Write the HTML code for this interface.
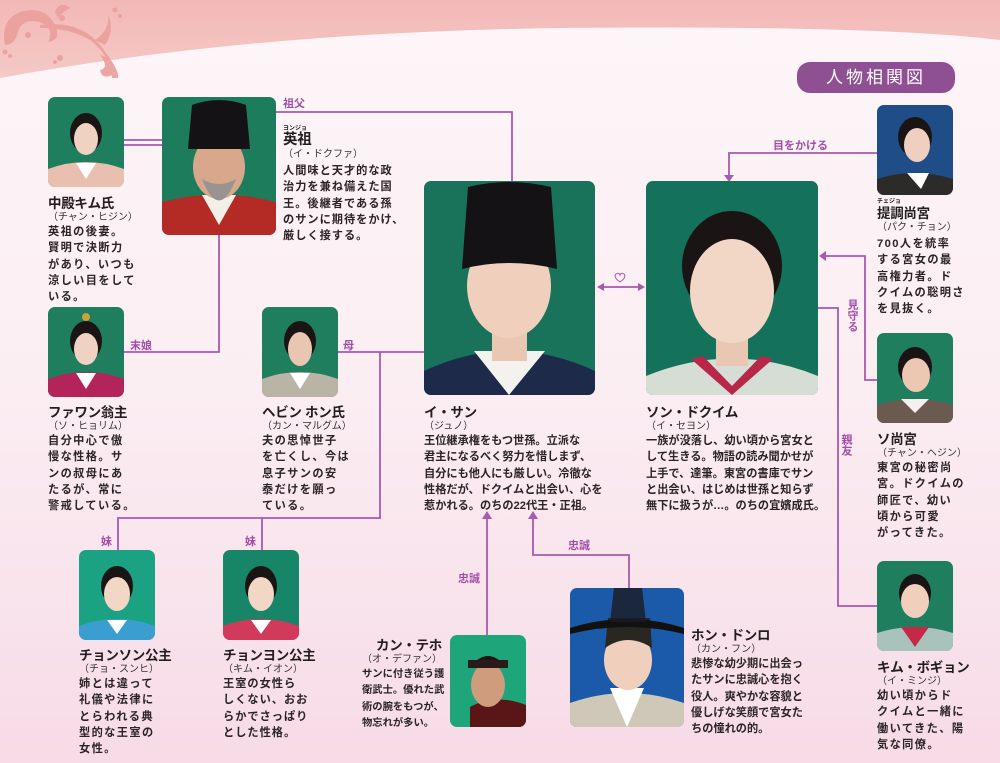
<!DOCTYPE html>
<html><head><meta charset="utf-8">
<style>
*{margin:0;padding:0;box-sizing:border-box}
body{width:1000px;height:763px;overflow:hidden;position:relative;font-family:"Liberation Sans","Noto Sans CJK JP",sans-serif;color:#231d1f;background:linear-gradient(#fdf6f8 0%,#fbeef3 50%,#f7dbe6 100%)}
.a{position:absolute}
.ph{position:absolute;border-radius:7px;overflow:hidden}
.ph svg{width:100%;height:100%;display:block}
.nm{font-weight:bold;font-size:13.5px;line-height:15px;white-space:nowrap;letter-spacing:-0.3px}
.ac{font-size:10px;line-height:13px;white-space:nowrap;color:#333}
.ds{font-size:11.2px;line-height:16.3px;white-space:nowrap;font-weight:bold;color:#2a2426}
.w{letter-spacing:1.4px}
.lb{position:absolute;color:#a24ea8;font-size:11px;font-weight:bold;white-space:nowrap}
.v{writing-mode:vertical-rl;line-height:12px}
.rb{font-size:6px;font-weight:bold;line-height:7px}
</style></head><body>
<svg class="a" style="left:0;top:0" width="1000" height="763">
<defs><linearGradient id="pk" x1="0" y1="0" x2="0" y2="1"><stop offset="0" stop-color="#f2b8b6"/><stop offset="1" stop-color="#f5c9c6"/></linearGradient></defs>
<path d="M0 0H1000V40Q880 25 560 28Q250 32 0 78Z" fill="url(#pk)"/>
<g fill="#eb9f9c" opacity="0.9">
<path d="M5 45Q0 20 20 12Q45 5 55 25Q62 40 48 42Q55 28 40 22Q22 18 18 32Q15 45 5 45Z"/>
<path d="M40 25Q80 20 100 45Q120 70 118 78L112 78Q110 55 90 40Q70 28 40 28Z"/>
<path d="M55 12Q60 0 70 8Q62 12 58 18Z"/>
<circle cx="28" cy="35" r="3"/><circle cx="62" cy="18" r="3"/><circle cx="60" cy="58" r="3"/><circle cx="55" cy="62" r="2"/>
<circle cx="5" cy="52" r="2.5"/><circle cx="10" cy="56" r="2"/>
<path d="M95 40Q110 30 108 15Q115 30 105 45Z"/>
<path d="M100 55Q118 60 112 75Q102 80 100 70Q110 68 100 55Z"/>
<circle cx="115" cy="10" r="2.5"/><circle cx="120" cy="16" r="2"/>
</g>
<rect x="797" y="62" width="158" height="31" rx="13" fill="#8e4f93"/>
<g stroke="#a85aae" stroke-width="1.8" fill="none">
<path d="M124 140H162M124 145H162"/>
<path d="M276 112H512V181"/>
<path d="M219 235V352H124"/>
<path d="M338 352H424"/>
<path d="M380 352V518H118V550M262 518V550"/>
<path d="M877 153H729V176"/>
<path d="M877 380H865V256H825"/>
<path d="M818 308H838V606H877"/>
<path d="M487 635V518"/>
<path d="M629 588V555H533V518"/>
<path d="M603 287H639"/>
</g>
<g fill="#a85aae">
<path d="M724 175H734L729 182Z"/>
<path d="M819 256L826 251V261Z"/>
<path d="M482 519L487 511L492 519Z"/>
<path d="M528 519L533 511L538 519Z"/>
<path d="M597 287L604 283V291Z"/><path d="M645 287L638 283V291Z"/>
</g>
<path d="M620 282Q613 277 616 274Q619 272 620 275Q621 272 624 274Q627 277 620 282Z" fill="none" stroke="#a85aae" stroke-width="1"/>
</svg>
<div class="a" style="left:797px;top:62px;width:158px;height:31px;color:#fff;font-size:17px;line-height:31px;text-align:center;letter-spacing:3px">人物相関図</div>

<!-- photos -->
<div class="ph" style="left:48px;top:97px;width:76px;height:90px"><svg viewBox="0 0 76 90"><rect width="76" height="90" fill="#1f7e5e"/><path d="M0 90V72Q38 58 76 72V90Z" fill="#e9c0b0"/><path d="M28 66L38 82L48 66Z" fill="#fff"/><ellipse cx="38" cy="36" rx="16" ry="20" fill="#1a1514"/><ellipse cx="38" cy="42" rx="12" ry="16" fill="#f0d2c2"/></svg></div>
<div class="ph" style="left:162px;top:97px;width:114px;height:138px"><svg viewBox="0 0 114 138"><rect width="114" height="138" fill="#1d7c5c"/><path d="M0 138V105Q57 90 114 105V138Z" fill="#b42a24"/><path d="M40 98L57 128L74 98Z" fill="#f2efe9"/><ellipse cx="57" cy="70" rx="26" ry="32" fill="#d8a78c"/><path d="M40 82Q57 125 74 82Q57 92 40 82Z" fill="#9a9490"/><path d="M26 52L30 8Q57 -2 84 8L88 52Z" fill="#141214"/></svg></div>
<div class="ph" style="left:48px;top:307px;width:76px;height:90px"><svg viewBox="0 0 76 90"><rect width="76" height="90" fill="#1f7e5e"/><path d="M0 90V72Q38 58 76 72V90Z" fill="#b2245a"/><path d="M28 66L38 82L48 66Z" fill="#fff"/><ellipse cx="38" cy="34" rx="16" ry="20" fill="#1a1514"/><ellipse cx="38" cy="42" rx="12" ry="16" fill="#f0d2c2"/><circle cx="38" cy="10" r="4" fill="#c9a23a"/></svg></div>
<div class="ph" style="left:262px;top:307px;width:76px;height:90px"><svg viewBox="0 0 76 90"><rect width="76" height="90" fill="#1f7e5e"/><path d="M0 90V72Q38 58 76 72V90Z" fill="#b9b4a6"/><path d="M28 66L38 82L48 66Z" fill="#fff"/><ellipse cx="38" cy="34" rx="16" ry="20" fill="#1a1514"/><ellipse cx="38" cy="42" rx="12" ry="17" fill="#e9c6b2"/></svg></div>
<div class="ph" style="left:424px;top:181px;width:171px;height:214px"><svg viewBox="0 0 171 214"><rect width="171" height="214" fill="#19735a"/><path d="M0 214V190Q85 150 171 190V214Z" fill="#1d2a4a"/><path d="M50 170L85 214L121 170Z" fill="#f4f2ee"/><rect x="68" y="140" width="35" height="40" fill="#eac7b2"/><ellipse cx="85" cy="105" rx="42" ry="52" fill="#f0d0bd"/><path d="M38 88L44 6Q85 -4 127 6L133 88Q85 76 38 88Z" fill="#141214"/></svg></div>
<div class="ph" style="left:646px;top:181px;width:172px;height:214px"><svg viewBox="0 0 172 214"><rect width="172" height="214" fill="#14715a"/><path d="M0 214V195Q86 160 172 195V214Z" fill="#d6ddd5"/><path d="M45 178L86 214L127 178L115 175L86 205L57 175Z" fill="#b82648"/><rect x="70" y="145" width="32" height="40" fill="#eac7b2"/><ellipse cx="86" cy="85" rx="50" ry="55" fill="#1a1514"/><ellipse cx="86" cy="110" rx="42" ry="52" fill="#f2d6c6"/></svg></div>
<div class="ph" style="left:877px;top:105px;width:76px;height:90px"><svg viewBox="0 0 76 90"><rect width="76" height="90" fill="#1e4d88"/><path d="M0 90V74Q38 62 76 74V90Z" fill="#2d2a2a"/><path d="M30 68L44 84L52 68Z" fill="#fff"/><ellipse cx="38" cy="32" rx="17" ry="20" fill="#1a1514"/><ellipse cx="40" cy="40" rx="13" ry="17" fill="#efd0c0"/></svg></div>
<div class="ph" style="left:877px;top:333px;width:76px;height:90px"><svg viewBox="0 0 76 90"><rect width="76" height="90" fill="#1f7e5e"/><path d="M0 90V72Q38 60 76 72V90Z" fill="#6a5a50"/><path d="M24 66L38 80L52 66Z" fill="#f5f0ec"/><ellipse cx="38" cy="34" rx="17" ry="20" fill="#1a1514"/><ellipse cx="39" cy="42" rx="14" ry="17" fill="#ecc7b2"/></svg></div>
<div class="ph" style="left:877px;top:561px;width:76px;height:90px"><svg viewBox="0 0 76 90"><rect width="76" height="90" fill="#1f7e5e"/><path d="M0 90V72Q38 60 76 72V90Z" fill="#a9c2bb"/><path d="M24 66L38 86L52 66Z" fill="#c42a48"/><ellipse cx="38" cy="32" rx="16" ry="19" fill="#1a1514"/><ellipse cx="38" cy="40" rx="14" ry="17" fill="#f0d0bd"/></svg></div>
<div class="ph" style="left:79px;top:550px;width:76px;height:90px"><svg viewBox="0 0 76 90"><rect width="76" height="90" fill="#1aa283"/><path d="M0 90V76Q38 62 76 76V90Z" fill="#3a9ed0"/><path d="M28 70L38 84L48 70Z" fill="#fff"/><ellipse cx="38" cy="36" rx="16" ry="20" fill="#1a1514"/><ellipse cx="38" cy="44" rx="13" ry="17" fill="#f2d6c6"/></svg></div>
<div class="ph" style="left:223px;top:550px;width:76px;height:90px"><svg viewBox="0 0 76 90"><rect width="76" height="90" fill="#178668"/><path d="M0 90V76Q38 62 76 76V90Z" fill="#d23a5c"/><path d="M28 70L38 84L48 70Z" fill="#fff"/><ellipse cx="38" cy="36" rx="16" ry="20" fill="#1a1514"/><ellipse cx="38" cy="44" rx="13" ry="17" fill="#f2d6c6"/></svg></div>
<div class="ph" style="left:450px;top:635px;width:76px;height:92px"><svg viewBox="0 0 76 92"><rect width="76" height="92" fill="#1fa57a"/><path d="M20 92V72Q45 58 76 70V92Z" fill="#5a1616"/><ellipse cx="38" cy="50" rx="17" ry="22" fill="#cf9c7e"/><path d="M20 32Q38 10 56 32Z" fill="#1a1514"/><rect x="18" y="25" width="40" height="8" fill="#2a1a1a"/></svg></div>
<div class="ph" style="left:570px;top:588px;width:114px;height:139px"><svg viewBox="0 0 114 139"><rect width="114" height="139" fill="#1b5aa8"/><path d="M0 139V115Q57 95 114 115V139Z" fill="#cfc8b8"/><path d="M40 100L57 139L74 100Z" fill="#fff"/><ellipse cx="58" cy="72" rx="24" ry="30" fill="#f0d0bd"/><path d="M35 60L38 30H80L82 60Q58 44 35 60Z" fill="#2a2622"/><path d="M0 40Q57 22 114 40V46Q57 32 0 46Z" fill="#111"/><path d="M40 34L44 0H72L76 34Z" fill="#1a1a22" opacity="0.8"/></svg></div>

<!-- labels -->
<div class="lb" style="left:283px;top:95px">祖父</div>
<div class="lb" style="left:130px;top:337px">末娘</div>
<div class="lb" style="left:343px;top:337px">母</div>
<div class="lb" style="left:101px;top:533px">妹</div>
<div class="lb" style="left:245px;top:533px">妹</div>
<div class="lb" style="left:773px;top:137px">目をかける</div>
<div class="lb v" style="left:846px;top:299px">見守る</div>
<div class="lb v" style="left:840px;top:434px">親友</div>
<div class="lb" style="left:458px;top:570px">忠誠</div>
<div class="lb" style="left:568px;top:537px">忠誠</div>

<!-- text -->
<div class="a" style="left:48px;top:196px"><div class="nm">中殿キム氏</div><div class="ac">（チャン・ヒジン）</div><div class="ds w">英祖の後妻。<br>賢明で決断力<br>があり、いつも<br>涼しい目をして<br>いる。</div></div>
<div class="a" style="left:283px;top:126px"><div class="rb">ヨンジョ</div><div class="nm" style="font-size:14.5px">英祖</div><div class="ac">（イ・ドクファ）</div><div class="ds" style="margin-top:2px;letter-spacing:1px">人間味と天才的な政<br>治力を兼ね備えた国<br>王。後継者である孫<br>のサンに期待をかけ、<br>厳しく接する。</div></div>
<div class="a" style="left:48px;top:405px"><div class="nm">ファワン翁主</div><div class="ac">（ソ・ヒョリム）</div><div class="ds w">自分中心で傲<br>慢な性格。サ<br>ンの叔母にあ<br>たるが、常に<br>警戒している。</div></div>
<div class="a" style="left:262px;top:405px"><div class="nm">ヘビン ホン氏</div><div class="ac">（カン・マルグム）</div><div class="ds w">夫の思悼世子<br>を亡くし、今は<br>息子サンの安<br>泰だけを願っ<br>ている。</div></div>
<div class="a" style="left:424px;top:405px"><div class="nm">イ・サン</div><div class="ac">（ジュノ）</div><div class="ds">王位継承権をもつ世孫。立派な<br>君主になるべく努力を惜しまず、<br>自分にも他人にも厳しい。冷徹な<br>性格だが、ドクイムと出会い、心を<br>惹かれる。のちの22代王・正祖。</div></div>
<div class="a" style="left:646px;top:405px"><div class="nm">ソン・ドクイム</div><div class="ac">（イ・セヨン）</div><div class="ds">一族が没落し、幼い頃から宮女と<br>して生きる。物語の読み聞かせが<br>上手で、達筆。東宮の書庫でサン<br>と出会い、はじめは世孫と知らず<br>無下に扱うが…。のちの宜嬪成氏。</div></div>
<div class="a" style="left:877px;top:199px"><div class="rb">チェジョ</div><div class="nm">提調尚宮</div><div class="ac">（パク・チョン）</div><div class="ds w" style="margin-top:2px">700人を統率<br>する宮女の最<br>高権力者。ド<br>クイムの聡明さ<br>を見抜く。</div></div>
<div class="a" style="left:877px;top:432px"><div class="nm">ソ尚宮</div><div class="ac">（チャン・ヘジン）</div><div class="ds w">東宮の秘密尚<br>宮。ドクイムの<br>師匠で、幼い<br>頃から可愛<br>がってきた。</div></div>
<div class="a" style="left:877px;top:660px"><div class="nm">キム・ボギョン</div><div class="ac">（イ・ミンジ）</div><div class="ds w">幼い頃からド<br>クイムと一緒に<br>働いてきた、陽<br>気な同僚。</div></div>
<div class="a" style="left:79px;top:648px"><div class="nm">チョンソン公主</div><div class="ac">（チョ・スンヒ）</div><div class="ds w">姉とは違って<br>礼儀や法律に<br>とらわれる典<br>型的な王室の<br>女性。</div></div>
<div class="a" style="left:223px;top:648px"><div class="nm">チョンヨン公主</div><div class="ac">（キム・イオン）</div><div class="ds" style="letter-spacing:1px">王室の女性ら<br>しくない、おお<br>らかでさっぱり<br>とした性格。</div></div>
<div class="a" style="left:343px;top:638px;width:99px;text-align:right"><div class="nm">カン・テホ</div><div class="ac">（オ・デファン）</div></div>
<div class="a" style="left:362px;top:667px"><div class="ds" style="font-size:10.3px">サンに付き従う護<br>衛武士。優れた武<br>術の腕をもつが、<br>物忘れが多い。</div></div>
<div class="a" style="left:691px;top:628px"><div class="nm">ホン・ドンロ</div><div class="ac">（カン・フン）</div><div class="ds">悲惨な幼少期に出会っ<br>たサンに忠誠心を抱く<br>役人。爽やかな容貌と<br>優しげな笑顔で宮女た<br>ちの憧れの的。</div></div>
</body></html>
